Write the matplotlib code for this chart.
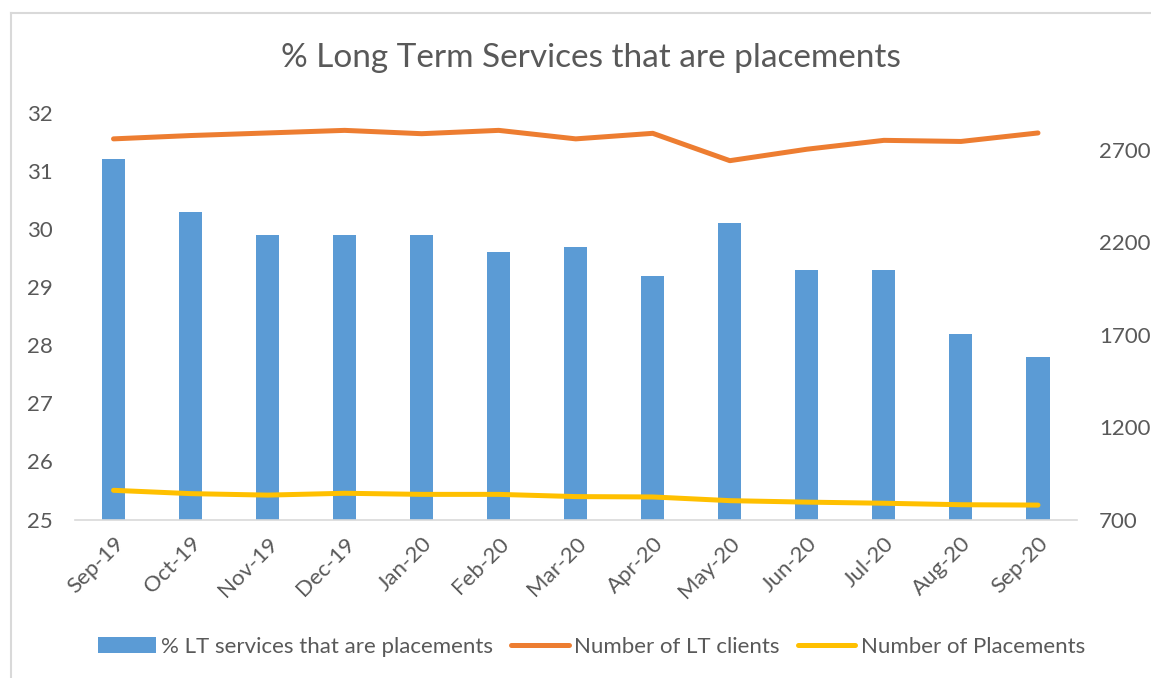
import matplotlib
matplotlib.use("Agg")
import matplotlib.pyplot as plt
from matplotlib.lines import Line2D
import numpy as np

plt.rcParams['font.family'] = ['Lato', 'DejaVu Sans']

months = ["Sep-19", "Oct-19", "Nov-19", "Dec-19", "Jan-20", "Feb-20", "Mar-20",
          "Apr-20", "May-20", "Jun-20", "Jul-20", "Aug-20", "Sep-20"]
pct_placements = [31.2, 30.3, 29.9, 29.9, 29.9, 29.6, 29.7, 29.2, 30.1, 29.3, 29.3, 28.2, 27.8]
lt_clients = [2760, 2778, 2792, 2806, 2788, 2806, 2760, 2790, 2642, 2704, 2752, 2746, 2792]
placements = [858, 840, 832, 842, 836, 836, 824, 822, 802, 794, 788, 780, 778]

left_ticks = [25, 26, 27, 28, 29, 30, 31, 32]
right_ticks = [700, 1200, 1700, 2200, 2700]

TXT = "#595959"
BLUE = "#5B9BD5"
ORANGE = "#ED7D31"
YELLOW = "#FFC000"

fig = plt.figure(figsize=(11.51, 6.78), dpi=100)
ax = fig.add_axes([75/1151, 1-519.5/678, (1076.5-75)/1151, (519.5-113)/678])
x = np.arange(len(months))

bars = ax.bar(x, pct_placements, width=0.3, color=BLUE, label="% LT services that are placements", zorder=2)
ax.set_ylim(25, 32)
ax.set_xlim(-0.5, len(months)-0.5)
ax.set_yticks(left_ticks)
ax.set_xticks(x)
ax.set_xticklabels(months, rotation=45, ha="right", rotation_mode="anchor")
ax.tick_params(axis="both", length=0, colors=TXT, labelsize=16)
ax.tick_params(axis="x", pad=10)
ax.tick_params(axis="y", pad=16)
for s in ["top", "left", "right"]:
    ax.spines[s].set_visible(False)
ax.spines["bottom"].set_color("#D9D9D9")
ax.spines["bottom"].set_linewidth(1.2)

ax2 = ax.twinx()
l1, = ax2.plot(x, lt_clients, color=ORANGE, lw=3.6, solid_capstyle="round", label="Number of LT clients", zorder=3)
l2, = ax2.plot(x, placements, color=YELLOW, lw=3.6, solid_capstyle="round", label="Number of Placements", zorder=3)
ax2.set_ylim(700, 2900)
ax2.set_yticks(right_ticks)
ax2.tick_params(axis="y", length=0, colors=TXT, labelsize=16, pad=16)
for s in ["top", "left", "right", "bottom"]:
    ax2.spines[s].set_visible(False)

fig.text(0.5135, 1-58/678, "% Long Term Services that are placements", ha="center", va="center",
         color=TXT, fontsize=24)

leg = fig.legend(handles=[bars, l1, l2], loc="center", bbox_to_anchor=(0.514, 1-647/678), ncol=3,
                 frameon=False, fontsize=16, handlelength=2.6, handletextpad=0.25, columnspacing=0.8)
for t in leg.get_texts():
    t.set_color(TXT)

fig.add_artist(Line2D([11/1151, 11/1151], [0, 1-13/678], color="#D9D9D9", lw=1.5))
fig.add_artist(Line2D([11/1151, 1], [1-13/678, 1-13/678], color="#D9D9D9", lw=1.5))

fig.savefig("out.png", dpi=100, facecolor="white")
